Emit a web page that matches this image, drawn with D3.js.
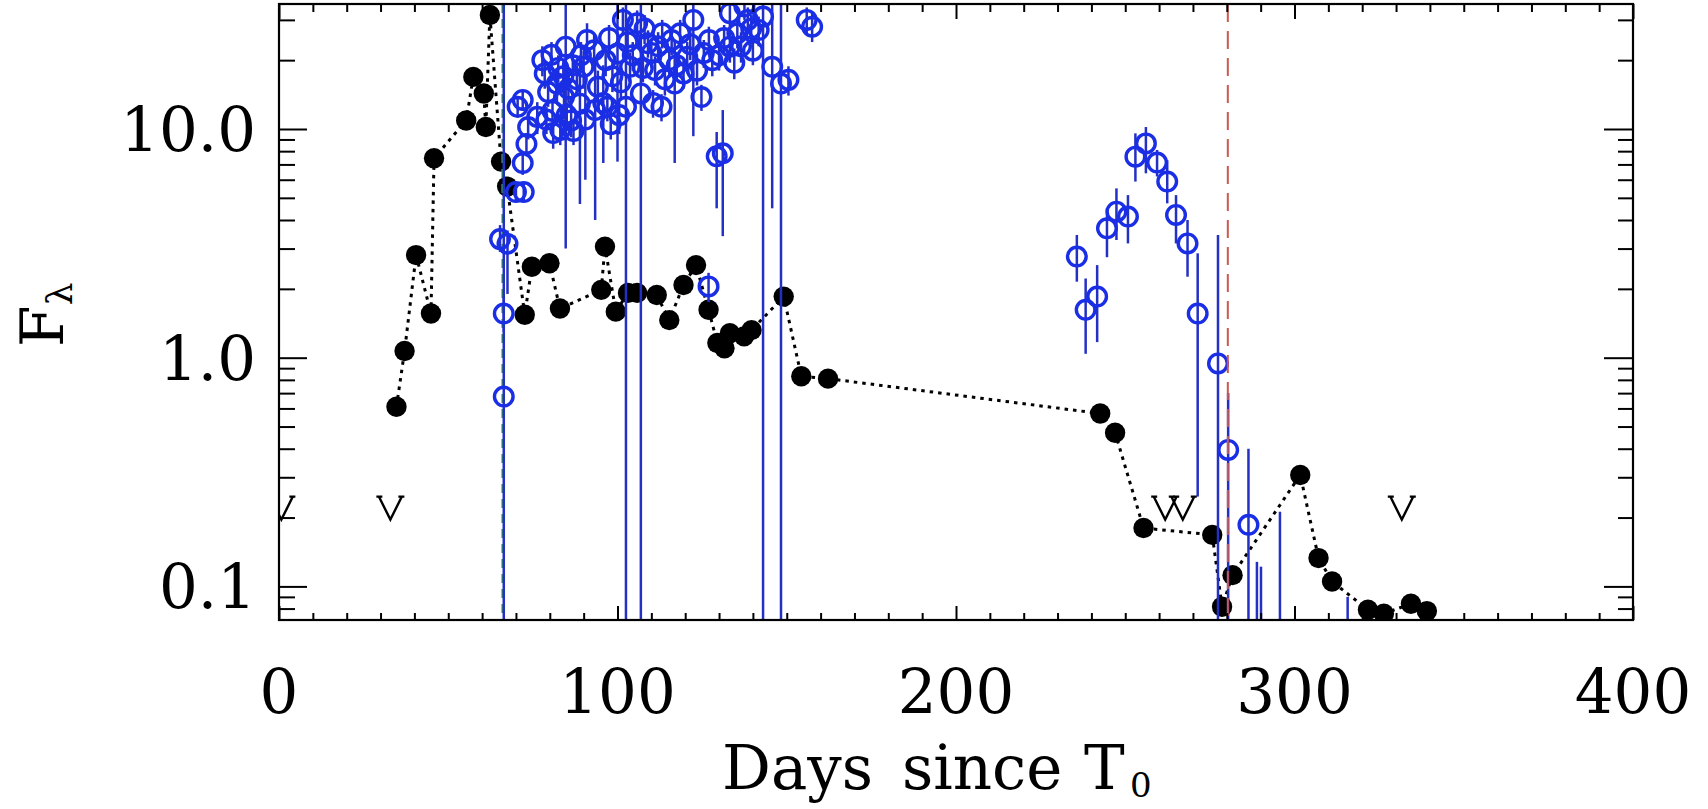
<!DOCTYPE html>
<html>
<head>
<meta charset="utf-8">
<script src="https://cdn.jsdelivr.net/npm/d3@7"></script>
<style>
  html, body { margin: 0; padding: 0; background: #fff; }
  svg { display: block; }
  text { font-family: "DejaVu Serif", serif; fill: #000; }
</style>
</head>
<body>
<svg id="chart" width="1708" height="809"></svg>
<script>
// Filled black photometry, joined in time order by a dotted line
const blackDays = [34.7, 37.1, 40.5, 44.9, 45.8, 55.3, 57.4, 60.5, 61.1, 62.3, 65.6, 67.4,
  72.6, 74.7, 79.9, 83.0, 95.2, 96.3, 99.5, 103.1, 105.8, 111.6, 115.3, 119.5, 123.2, 126.9,
  129.5, 131.6, 133.2, 137.4, 139.6, 149.1, 154.3, 162.2, 242.6, 247.0, 255.4, 275.7, 278.6,
  281.7, 301.7, 307.1, 311.1, 321.7, 326.4, 334.4, 339.1];
const blackFlux = [0.61, 1.07, 2.81, 1.56, 7.45, 10.9, 16.9, 14.3, 10.2, 31.5, 7.2, 5.6,
  1.54, 2.50, 2.59, 1.64, 1.98, 3.06, 1.59, 1.92, 1.92, 1.88, 1.46, 2.08, 2.54, 1.62,
  1.16, 1.10, 1.28, 1.24, 1.32, 1.85, 0.83, 0.81, 0.57, 0.47, 0.18, 0.168, 0.0815,
  0.112, 0.307, 0.133, 0.105, 0.079, 0.076, 0.084, 0.078];

// Open blue points with their error ranges (low / high flux)
const blueDays = [65.3, 67.5, 66.4, 66.4, 70.0, 72.3, 72.0, 73.1, 73.6, 70.5, 72.0, 76.3,
  77.8, 80.5, 82.1, 84.2, 83.1, 81.0, 86.3, 88.9, 84.7, 90.0, 90.5, 93.4, 93.1, 94.2, 91.0,
  95.8, 100.0, 100.5, 101.6, 102.5, 103.7, 106.9, 105.8, 109.0, 111.1, 113.2, 115.3, 116.9,
  118.5, 120.6, 122.4, 124.8, 126.9, 128.0, 129.3, 131.1, 133.2, 135.4, 138.5, 133.2, 141.7,
  143.0, 145.7, 148.3, 150.5, 155.9, 157.5, 137.5,
  78.5, 79.5, 80.8, 82.5, 84.0, 85.5, 86.8, 88.0, 89.2, 87.0, 85.0, 79.0,
  96.5, 97.5, 98.5, 101.0, 103.0, 104.5, 107.5, 108.0, 110.0, 112.0, 114.0, 116.0,
  117.5, 119.5, 121.5, 123.5, 125.5, 127.0, 130.0, 131.5, 134.5, 136.5, 139.5, 140.0,
  97.0, 98.0, 110.5, 113.0,
  235.7, 238.3, 241.7, 244.6, 247.4, 250.8, 253.0, 256.1, 259.4, 262.4, 265.0, 268.4, 271.4,
  277.4, 280.4, 286.4, 288.9, 290.1, 295.7, 315.7];
const blueFlux = [3.30, 3.15, 1.56, 0.676, 5.30, 5.30, 7.10, 8.60, 10.2, 12.5, 13.4, 11.3,
  20.0, 21.1, 15.8, 13.8, 9.90, 9.60, 10.9, 12.9, 22.9, 18.7, 11.0, 12.1, 22.1, 15.3, 24.5,
  13.0, 21.4, 11.5, 30.0, 12.5, 18.7, 14.3, 29.0, 23.7, 18.1, 26.2, 20.0, 15.8,
  26.2, 20.7, 30.0, 13.8, 2.05, 20.0, 7.60, 7.83, 22.9, 26.2, 30.0, 32.1, 27.1,
  31.0, 18.7, 15.8, 16.4, 30.0, 28.0, 34.3,
  17.5, 14.5, 12.0, 18.5, 17.0, 15.0, 19.0, 16.5, 21.0, 9.80, 11.5, 11.0,
  20.0, 25.0, 17.0, 16.0, 24.0, 21.0, 18.5, 27.5, 21.5, 23.0, 16.5, 24.5,
  19.0, 17.5, 23.5, 18.0, 21.5, 24.5, 21.0, 25.0, 19.5, 23.0, 27.5, 22.0,
  12.5, 10.5, 13.0, 12.5,
  2.77, 1.62, 1.85, 3.68, 4.35, 4.14, 7.57, 8.65, 7.13, 5.89, 4.21, 3.16, 1.56,
  0.944, 0.395, 0.186, 0.05, 0.05, 0.05, 0.04];
const blueLow = [2.90, 1.90, 1.30, 0.01, 4.80, 4.80, 6.30, 7.60, 9.00, 11.2, 12.0, 9.50,
  17.0, 18.0, 13.0, 11.0, 8.50, 8.20, 9.20, 4.70, 3.00, 15.0, 6.00, 4.00, 18.0, 12.5, 20.0,
  7.10, 7.20, 9.50, 26.0, 0.01, 16.0, 0.01, 25.0, 20.5, 15.5, 22.5, 17.0, 7.10,
  22.5, 17.5, 9.30, 12.0, 1.75, 17.0, 4.50, 3.40, 19.5, 22.5, 26.0, 28.0, 23.0,
  0.01, 4.50, 0.01, 14.0, 26.0, 24.0, 30.0,
  15.0, 12.5, 10.5, 16.0, 14.5, 13.0, 16.5, 14.0, 18.0, 8.50, 10.0, 9.50,
  17.0, 21.5, 14.5, 13.5, 20.5, 18.0, 16.0, 23.5, 18.5, 19.5, 14.0, 21.0,
  16.5, 15.0, 20.0, 15.5, 18.5, 21.0, 18.0, 21.5, 16.5, 19.5, 23.5, 19.0,
  10.8, 9.00, 11.2, 10.8,
  2.15, 1.04, 1.17, 2.75, 3.27, 3.16, 5.89, 6.40, 6.20, 4.73, 3.16, 2.26, 0.247,
  0.01, 0.01, 0.01, 0.01, 0.01, 0.01, 0.01];
const blueHigh = [3.80, 3.60, 1.85, 100, 5.80, 5.80, 8.00, 9.60, 11.4, 13.8, 14.8, 13.1,
  23.0, 24.0, 18.5, 16.5, 11.3, 11.0, 12.6, 21.0, 40.0, 22.0, 16.0, 20.0, 26.0, 18.0, 29.0,
  19.0, 36.0, 13.5, 34.0, 100, 21.5, 100, 33.0, 27.0, 20.7, 30.0, 23.0, 24.5,
  30.0, 24.0, 51.0, 15.6, 2.35, 23.0, 9.70, 12.1, 26.3, 30.0, 34.0, 36.0, 31.0,
  100, 40.0, 100, 18.8, 34.0, 32.0, 39.0,
  20.0, 16.5, 13.5, 21.0, 19.5, 17.0, 21.5, 19.0, 24.0, 11.1, 13.0, 12.5,
  23.0, 28.5, 19.5, 18.5, 27.5, 24.0, 21.0, 31.5, 24.5, 26.5, 19.0, 28.0,
  21.5, 20.0, 27.0, 20.5, 24.5, 28.0, 24.0, 28.5, 22.5, 26.5, 31.5, 25.0,
  14.2, 12.0, 14.8, 14.2,
  3.44, 2.22, 2.54, 4.50, 5.50, 5.14, 9.57, 10.2, 8.10, 7.30, 5.14, 4.00, 2.86,
  3.44, 0.70, 0.40, 0.128, 0.122, 0.212, 0.090];

// Upper limits
const limitDays = [0.7, 32.9, 261.8, 267.0, 331.7];
const limitFlux = [0.22, 0.22, 0.22, 0.22, 0.22];

// Reference epochs
const greenEpoch = 66.0;
const redEpoch = 280.3;

// Axis ticks and labels
const xMajorTicks = [0, 100, 200, 300, 400];
const xTickLabels = ["0", "100", "200", "300", "400"];
const yMajorTicks = [0.1, 1, 10];
const yTickLabels = ["0.1", "1.0", "10.0"];
const yMinorTicks = [0.08, 0.09, 0.2, 0.3, 0.4, 0.5, 0.6, 0.7, 0.8, 0.9,
  2, 3, 4, 5, 6, 7, 8, 9, 20, 30];

// Plot frame
const frameL = 279, frameR = 1633, frameT = 4, frameB = 620;

const svg = d3.select("#chart");
const x = d3.scaleLinear().domain([0, 400]).range([frameL, frameR]);
const y = d3.scaleLog().domain([0.0713, 35.2]).range([frameB, frameT]);

svg.append("defs").append("clipPath").attr("id", "plotClip")
  .append("rect").attr("x", frameL).attr("y", frameT)
  .attr("width", frameR - frameL).attr("height", frameB - frameT);

const plot = svg.append("g").attr("clip-path", "url(#plotClip)");

// Black dotted light curve
const blackPts = blackDays.map((d, i) => [d, blackFlux[i]]);
plot.append("path")
  .datum(blackPts)
  .attr("fill", "none")
  .attr("stroke", "#000")
  .attr("stroke-width", 3)
  .attr("stroke-dasharray", "3.5,5")
  .attr("d", d3.line().x(d => x(d[0])).y(d => y(d[1])));

plot.selectAll("circle.black")
  .data(blackPts)
  .join("circle")
  .attr("class", "black")
  .attr("cx", d => x(d[0]))
  .attr("cy", d => y(d[1]))
  .attr("r", 10.2)
  .attr("fill", "#000");

// Green reference epoch
plot.append("line")
  .attr("x1", x(greenEpoch)).attr("x2", x(greenEpoch))
  .attr("y1", frameT).attr("y2", frameB)
  .attr("stroke", "#3aa83a").attr("stroke-width", 2)
  .attr("stroke-dasharray", "9,6");

// Blue error bars and points
const bluePts = blueDays.map((d, i) => ({ d, f: blueFlux[i], lo: blueLow[i], hi: blueHigh[i] }));
plot.selectAll("line.err")
  .data(bluePts)
  .join("line")
  .attr("class", "err")
  .attr("x1", p => x(p.d)).attr("x2", p => x(p.d))
  .attr("y1", p => y(p.lo)).attr("y2", p => y(p.hi))
  .attr("stroke", "#2430c4")
  .attr("stroke-width", 2.5);

plot.selectAll("circle.blue")
  .data(bluePts)
  .join("circle")
  .attr("class", "blue")
  .attr("cx", p => x(p.d))
  .attr("cy", p => y(p.f))
  .attr("r", 9.3)
  .attr("fill", "none")
  .attr("stroke", "#1a2ee6")
  .attr("stroke-width", 3.4);

// Upper-limit symbols
const vShape = "M-14,-11.5 L-8,-11.5 M-11.5,-11.5 L0,11.5 L11.5,-11.5 M8,-11.5 L14,-11.5";
plot.selectAll("path.limit")
  .data(limitDays.map((d, i) => [d, limitFlux[i]]))
  .join("path")
  .attr("class", "limit")
  .attr("transform", d => `translate(${x(d[0])},${y(d[1])})`)
  .attr("d", vShape)
  .attr("fill", "none")
  .attr("stroke", "#000")
  .attr("stroke-width", 2.4);

// Red reference epoch
plot.append("line")
  .attr("x1", x(redEpoch)).attr("x2", x(redEpoch))
  .attr("y1", frameT).attr("y2", frameB)
  .attr("stroke", "#c95a52").attr("stroke-width", 2)
  .attr("stroke-dasharray", "18,9");

// Axes: ticks on all four sides, pointing inward
function ticks(axis, tr) {
  svg.append("g").attr("transform", tr)
    .call(axis.tickFormat(""))
    .call(g => g.select(".domain").remove())
    .call(g => g.selectAll("line").attr("stroke", "#000").attr("stroke-width", 2));
}
const xMinor = d3.range(0, 401, 10).filter(v => v % 100 !== 0);
ticks(d3.axisBottom(x).tickValues(xMinor).tickSize(-7), `translate(0,${frameB})`);
ticks(d3.axisBottom(x).tickValues(xMajorTicks).tickSize(-14), `translate(0,${frameB})`);
ticks(d3.axisTop(x).tickValues(xMinor).tickSize(-8), `translate(0,${frameT})`);
ticks(d3.axisTop(x).tickValues(xMajorTicks).tickSize(-15), `translate(0,${frameT})`);
ticks(d3.axisLeft(y).tickValues(yMinorTicks).tickSize(-16), `translate(${frameL},0)`);
ticks(d3.axisLeft(y).tickValues(yMajorTicks).tickSize(-28), `translate(${frameL},0)`);
ticks(d3.axisRight(y).tickValues(yMinorTicks).tickSize(-15), `translate(${frameR},0)`);
ticks(d3.axisRight(y).tickValues(yMajorTicks).tickSize(-29), `translate(${frameR},0)`);

svg.append("rect")
  .attr("x", frameL).attr("y", frameT)
  .attr("width", frameR - frameL).attr("height", frameB - frameT)
  .attr("fill", "none").attr("stroke", "#000").attr("stroke-width", 2.2);

// Tick labels
svg.selectAll("text.xl")
  .data(xMajorTicks)
  .join("text")
  .attr("class", "xl")
  .attr("x", v => x(v))
  .attr("y", 713)
  .attr("text-anchor", "middle")
  .attr("font-size", 61)
  .text((v, i) => xTickLabels[i]);

svg.selectAll("text.yl")
  .data(yMajorTicks)
  .join("text")
  .attr("class", "yl")
  .attr("x", 256)
  .attr("y", v => y(v) + 22)
  .attr("text-anchor", "end")
  .attr("font-size", 61)
  .text((v, i) => yTickLabels[i]);

// Axis titles: x title set word by word with wide word gaps
svg.append("text").attr("x", 722).attr("y", 789).attr("font-size", 61).text("Days");
svg.append("text").attr("x", 902).attr("y", 789).attr("font-size", 61).text("since");
svg.append("text").attr("x", 1084).attr("y", 789).attr("font-size", 61).text("T");
svg.append("text").attr("x", 1130).attr("y", 797).attr("font-size", 34).text("0");

const yTitle = svg.append("text")
  .attr("transform", "translate(63,347) rotate(-90)")
  .attr("font-size", 60);
yTitle.append("tspan").text("F");
yTitle.append("tspan").attr("font-size", 36).attr("dy", 9).text("λ");
</script>
</body>
</html>
